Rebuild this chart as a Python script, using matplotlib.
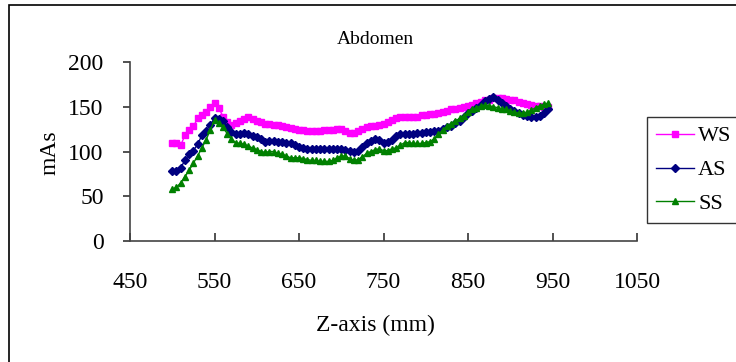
import matplotlib
matplotlib.use("Agg")
import matplotlib.pyplot as plt
import numpy as np
from matplotlib.patches import Rectangle

# Z position (mm), 5 mm steps
z_mm = np.arange(500, 950, 5)

ws = [109, 109, 107, 118, 124, 128, 137, 141, 144, 150,
      154, 149, 139, 133, 130, 132, 134, 136, 138, 136,
      134, 133, 131, 131, 130, 130, 128, 127, 126, 125,
      124, 124, 123, 123, 123, 123, 124, 124, 124, 125,
      125, 123, 121, 121, 123, 125, 127, 128, 129, 130,
      131, 133, 135, 137, 138, 138, 138, 138, 139, 141,
      141, 142, 142, 143, 144, 145, 147, 148, 149, 150,
      151, 152, 154, 155, 157, 158, 160, 160, 160, 159,
      158, 157, 155, 154, 153, 152, 151, 151, 150, 150]

as_ = [78, 78, 82, 90, 97, 101, 108, 118, 123, 130,
       137, 136, 134, 127, 122, 119, 120, 121, 119, 117,
       116, 114, 111, 112, 112, 111, 111, 110, 109, 107,
       105, 104, 103, 103, 103, 103, 103, 103, 103, 103,
       103, 102, 101, 99, 101, 105, 110, 112, 114, 113,
       110, 111, 113, 117, 119, 120, 120, 120, 121, 121,
       122, 122, 123, 123, 125, 127, 129, 132, 134, 138,
       143, 145, 149, 152, 156, 159, 161, 157, 154, 151,
       148, 145, 143, 141, 140, 139, 139, 140, 143, 147]

ss = [58, 60, 65, 72, 79, 87, 95, 104, 113, 124,
      135, 132, 127, 120, 114, 110, 109, 108, 106, 104,
      102, 100, 99, 100, 100, 98, 97, 95, 93, 93,
      93, 92, 91, 90, 90, 89, 89, 89, 90, 93,
      95, 95, 92, 90, 91, 94, 98, 100, 102, 103,
      101, 101, 103, 104, 107, 110, 110, 109, 109, 109,
      110, 111, 114, 119, 124, 128, 131, 134, 137, 140,
      144, 147, 149, 151, 152, 151, 150, 149, 148, 147,
      145, 144, 143, 143, 144, 146, 149, 151, 153, 154]

x_ticks = [450, 550, 650, 750, 850, 950, 1050]
y_ticks = [0, 50, 100, 150, 200]

plt.rcParams["font.family"] = ["Liberation Serif", "DejaVu Serif"]

W, H = 736, 362
fig = plt.figure(figsize=(W / 100, H / 100), dpi=100)
ax = fig.add_axes([130 / W, 1 - 241 / H, (637 - 130) / W, (241 - 62) / H])

ax.plot(z_mm, ws, color="#FF00FF", marker="s", ms=3.8, lw=1, label="WS")
ax.plot(z_mm, as_, color="#000080", marker="D", ms=3.6, lw=1, label="AS")
ax.plot(z_mm, ss, color="#008000", marker="^", ms=4.4, lw=1, label="SS")

ax.set_xlim(450, 1050)
ax.set_ylim(0, 200)
ax.set_xticks(x_ticks)
ax.set_yticks(y_ticks)
for s in ["top", "right"]:
    ax.spines[s].set_visible(False)
for s in ["left", "bottom"]:
    ax.spines[s].set_color("#444444")
    ax.spines[s].set_linewidth(1.2)
ax.tick_params(axis="x", direction="in", length=6, width=1.2, color="#333333",
               labelsize=17, pad=22)
ax.tick_params(axis="y", direction="out", length=5, width=1.2, color="#333333",
               labelsize=17, pad=14)

fig.text(375 / W, 1 - 40 / H, "Abdomen", ha="center", va="center", fontsize=14)
fig.text(375 / W, 1 - 325 / H, "Z-axis (mm)", ha="center", va="center", fontsize=17)
fig.text(50 / W, 1 - 153 / H, "mAs", ha="center", va="center", fontsize=17,
         rotation=90)

leg = fig.legend(loc="upper left", bbox_to_anchor=(647 / W, 1 - 117 / H),
                 fontsize=16, frameon=True, fancybox=False, handlelength=1.7,
                 handletextpad=0.2, labelspacing=0.6, borderpad=0.4,
                 borderaxespad=0)
leg.get_frame().set_edgecolor("black")
leg.get_frame().set_linewidth(1)

# outer chart border
fig.patches.append(Rectangle((9 / W, -0.1), 1.2, 1.1 - 5 / H, transform=fig.transFigure,
                             fill=False, edgecolor="black", lw=1.2))

fig.savefig("out.png", dpi=100)
